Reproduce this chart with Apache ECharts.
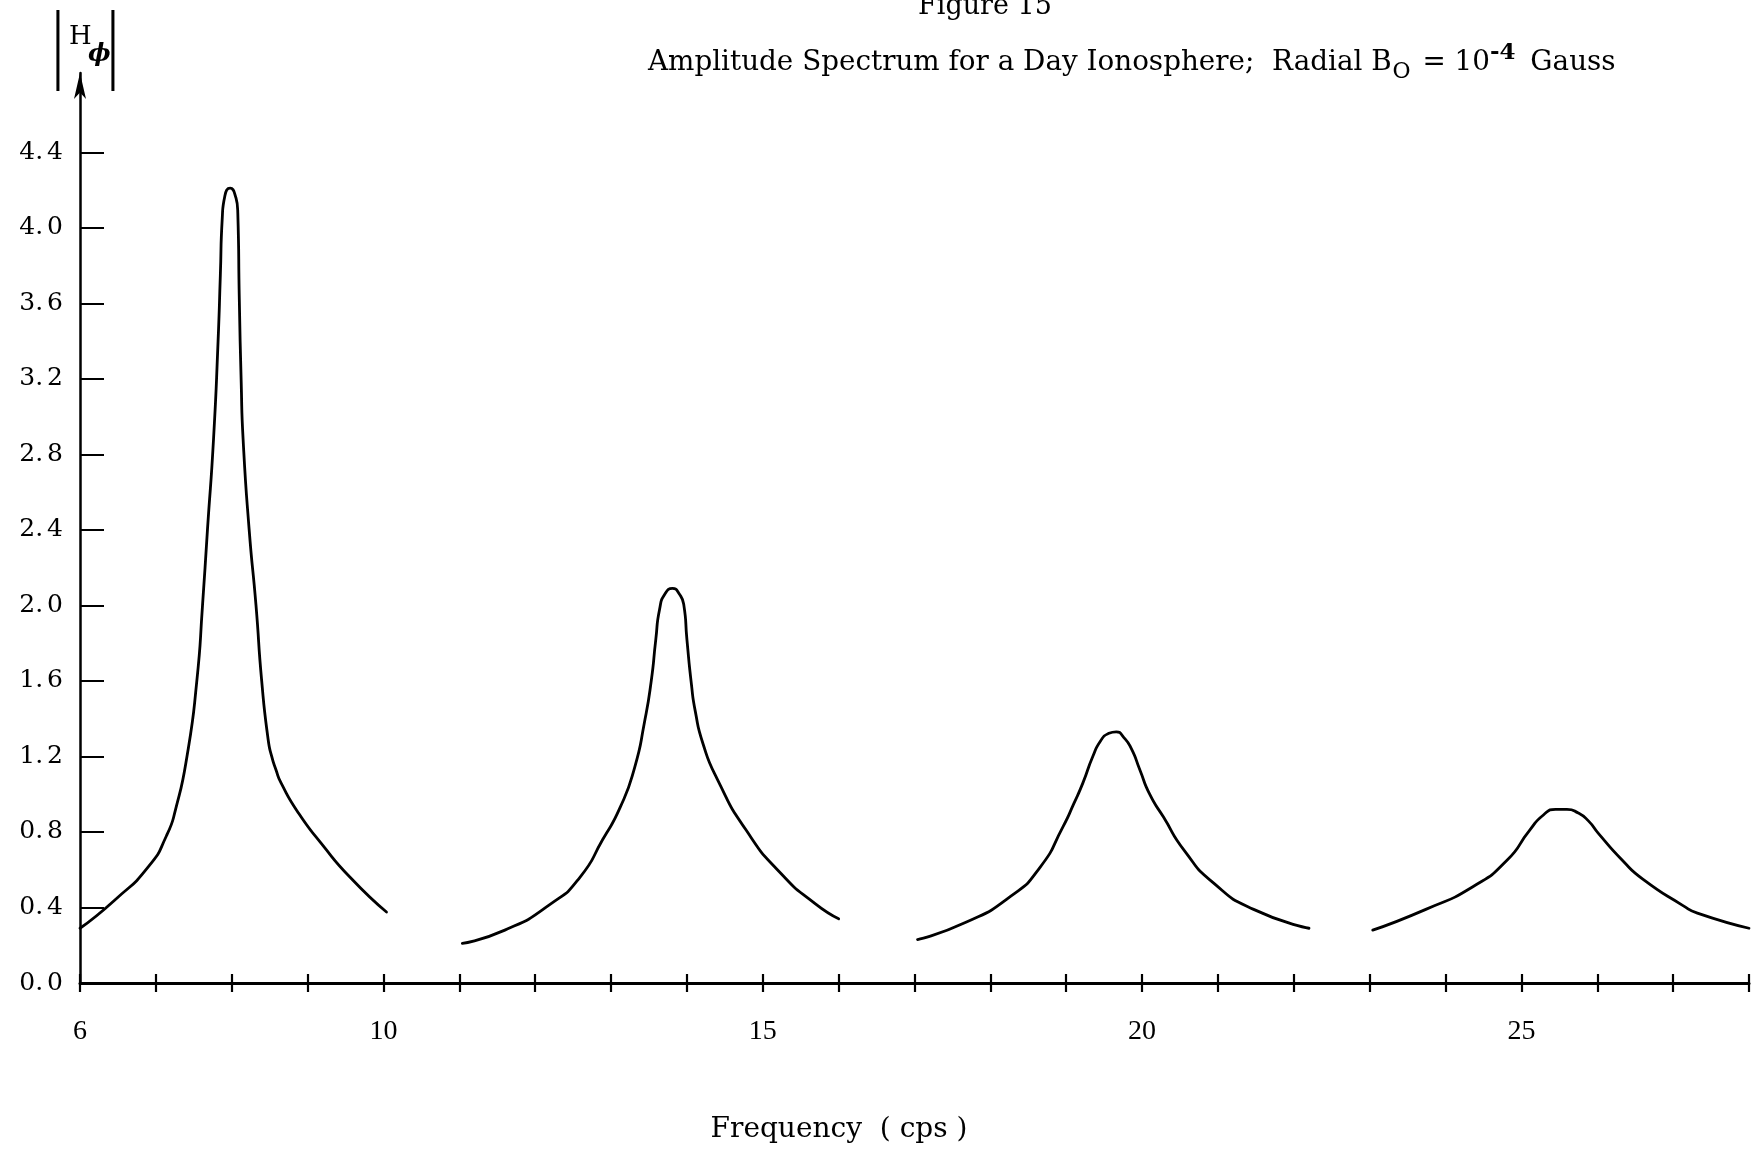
<!DOCTYPE html>
<html>
<head>
<meta charset="utf-8">
<script src="https://cdn.jsdelivr.net/npm/echarts@6/dist/echarts.min.js"></script>
<style>html,body{margin:0;padding:0;background:#fff}#c{width:1754px;height:1152px}</style>
</head>
<body>
<div id="c"></div>
<script>
// ---- data ----
const xMin = 6, xMax = 28;
const xLabelValues = [6, 10, 15, 20, 25];
const yTickValues = [0, 0.4, 0.8, 1.2, 1.6, 2.0, 2.4, 2.8, 3.2, 3.6, 4.0, 4.4];

const peak1 = [[6.0,0.29],[6.46,0.44],[6.91,0.62],[7.14,0.78],[7.26,0.92],[7.41,1.20],[7.54,1.60],[7.615,2.0],[7.68,2.4],[7.76,2.88],[7.82,3.40],[7.85,3.75],[7.875,4.05],[7.91,4.17],[7.98,4.21],[8.04,4.18],[8.08,4.08],[8.10,3.62],[8.125,3.18],[8.15,2.88],[8.23,2.4],[8.32,2.0],[8.395,1.6],[8.48,1.29],[8.527,1.2],[8.584,1.128],[8.65,1.06],[8.88,0.90],[9.18,0.74],[9.56,0.56],[10.04,0.376]];
const peak2 = [[11.04,0.21],[11.6,0.28],[12.21,0.42],[12.59,0.56],[12.89,0.76],[13.12,0.93],[13.31,1.14],[13.44,1.38],[13.53,1.60],[13.59,1.82],[13.64,1.98],[13.71,2.06],[13.81,2.09],[13.90,2.06],[13.96,2.00],[14.0,1.82],[14.06,1.58],[14.11,1.44],[14.21,1.27],[14.40,1.08],[14.78,0.81],[15.24,0.58],[15.69,0.42],[16.0,0.34]];
const peak3 = [[17.04,0.23],[17.67,0.32],[18.27,0.46],[18.65,0.61],[18.96,0.83],[19.1,0.95],[19.22,1.06],[19.35,1.20],[19.45,1.28],[19.55,1.32],[19.66,1.33],[19.76,1.30],[19.86,1.24],[19.97,1.13],[20.1,1.0],[20.28,0.88],[20.56,0.70],[20.94,0.53],[21.47,0.39],[22.2,0.29]];
const peak4 = [[23.04,0.28],[23.74,0.39],[24.36,0.51],[24.81,0.65],[25.11,0.81],[25.29,0.89],[25.45,0.92],[25.60,0.92],[25.75,0.90],[25.88,0.86],[26.02,0.79],[26.33,0.65],[26.6,0.55],[27.13,0.41],[27.32,0.37],[28.0,0.29]];

const figureLabel = 'Figure 15';
const titleMain = 'Amplitude Spectrum for a Day Ionosphere;  Radial B';
const titleSub = 'O';
const titleMid = ' = 10';
const titleSup = '-4';
const titleEnd = ' Gauss';
const xAxisTitle = 'Frequency  ( cps )';

// ---- chart ----
const serif = '"DejaVu Serif", "Liberation Serif", serif';
const chart = echarts.init(document.getElementById('c'), null, {renderer: 'canvas'});

function lineSeries(name, data) {
  return {
    name: name, type: 'line', data: data, xAxisIndex: 0, yAxisIndex: 0,
    showSymbol: false, symbol: 'none', smooth: 0.6,
    lineStyle: {color: '#000', width: 2.8, cap: 'round', join: 'round'}, silent: true
  };
}

chart.setOption({
  animation: false,
  backgroundColor: '#fff',
  grid: {left: 80, right: 5, top: 73, bottom: 169, containLabel: false},
  xAxis: [{
    type: 'value', min: xMin, max: xMax, interval: 1,
    axisLine: {show: true, lineStyle: {color: '#000', width: 3}},
    axisTick: {show: true, inside: false, length: 9, lineStyle: {color: '#000', width: 2.2}},
    axisLabel: {show: true, customValues: xLabelValues, margin: 35,
      fontFamily: '"Liberation Serif", serif', fontSize: 28, color: '#000'},
    splitLine: {show: false}
  }, {
    type: 'value', min: xMin, max: xMax, interval: 1, position: 'bottom', gridIndex: 0,
    axisLine: {show: false},
    axisTick: {show: true, inside: true, length: 9, lineStyle: {color: '#000', width: 2.2}},
    axisLabel: {show: false},
    splitLine: {show: false}
  }],
  yAxis: {
    type: 'value', min: 0, max: 4.82,
    axisLine: {show: true, symbol: ['none', 'arrow'], symbolSize: [9, 26],
      lineStyle: {color: '#000', width: 2.5}},
    axisTick: {show: true, inside: true, length: 24, customValues: yTickValues,
      lineStyle: {color: '#000', width: 2}},
    axisLabel: {show: true, customValues: yTickValues, margin: 17,
      formatter: function (v) {
        const s = Number(v).toFixed(1).split('.');
        return '{a|' + s[0] + '.}{b|' + s[1] + '}';
      },
      rich: {
        a: {fontFamily: serif, fontSize: 25, color: '#000'},
        b: {fontFamily: serif, fontSize: 25, color: '#000', padding: [0, 0, 0, 4]}
      }
    },
    splitLine: {show: false}
  },
  graphic: [
    {type: 'text', x: 985, y: 7, style: {text: figureLabel, font: '27px ' + serif, fill: '#000', align: 'center', verticalAlign: 'middle'}},
    {type: 'text', x: 648, y: 63, style: {
      text: '{t|' + titleMain + '}{sub|' + titleSub + '}{t|' + titleMid + '}{sup|' + titleSup + '}{t|' + titleEnd + '}',
      align: 'left', verticalAlign: 'middle',
      rich: {
        t: {fontFamily: serif, fontSize: 27.8, fill: '#000', color: '#000'},
        sub: {fontFamily: serif, fontSize: 22, fill: '#000', color: '#000', padding: [18, 3, 0, 1]},
        sup: {fontFamily: serif, fontSize: 23, fontWeight: 'bold', fill: '#000', color: '#000', padding: [0, 6, 20, 0]}
      }
    }},
    {type: 'text', x: 839, y: 1130, style: {text: xAxisTitle, font: '28px ' + serif, fill: '#000', align: 'center', verticalAlign: 'middle'}},
    {type: 'text', x: 58, y: 49, scaleX: 0.7, style: {text: '|', font: '88px "Liberation Serif", serif', fill: '#000', align: 'center', verticalAlign: 'middle'}},
    {type: 'text', x: 113, y: 49, scaleX: 0.7, style: {text: '|', font: '88px "Liberation Serif", serif', fill: '#000', align: 'center', verticalAlign: 'middle'}},
    {type: 'text', x: 69, y: 37, style: {text: 'H', font: '26px ' + serif, fill: '#000', align: 'left', verticalAlign: 'middle'}},
    {type: 'text', x: 88, y: 55, style: {text: 'ϕ', font: 'italic bold 24px ' + serif, fill: '#000', align: 'left', verticalAlign: 'middle'}}
  ],
  series: [
    lineSeries('Peak 1', peak1),
    lineSeries('Peak 2', peak2),
    lineSeries('Peak 3', peak3),
    lineSeries('Peak 4', peak4)
  ]
});
</script>
</body>
</html>
